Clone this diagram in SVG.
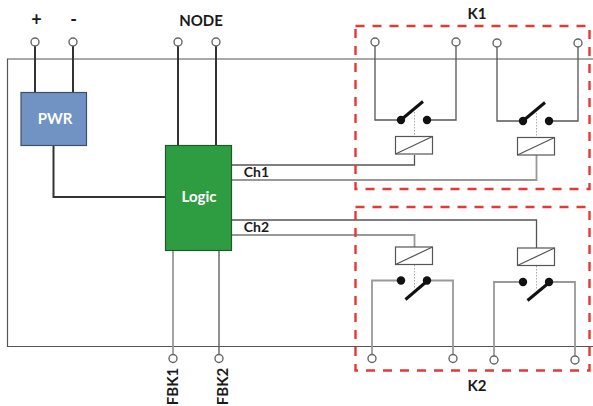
<svg xmlns="http://www.w3.org/2000/svg" width="593" height="406" viewBox="0 0 593 406">
<style>
text{font-family:Lato,Carlito,"Open Sans",sans-serif;font-weight:700;fill:#1a1a1a;font-size:14px;text-anchor:middle}
.w{fill:none;stroke:#555;stroke-width:1.3}
.g{fill:none;stroke:#999;stroke-width:1.8}
.d{fill:none;stroke:#333;stroke-width:2}
.t{fill:#fff;stroke:#555;stroke-width:1.2}
.c{fill:#fff;stroke:#666;stroke-width:1.4}
.k{fill:#111}
.b{stroke:#111;stroke-width:3;fill:none}
.dot{stroke:#aaa;stroke-width:1;stroke-dasharray:1.5 1.5;fill:none}
.r{fill:none;stroke:#e53935;stroke-width:2.4;stroke-dasharray:9 8}
</style>
<path id="frame" d="M593 59H7.5V346.5H593" fill="none" stroke="#555" stroke-width="1.2"/>
<g id="connectors">
<path class="d" d="M35 46V92M73 46V92M178 46V145M216 46V145M53.500 146V197H165"/>
<path class="g" d="M173 251V354"/>
<path class="w" d="M219 251V354"/>
<path class="w" d="M232 165H414.500V155M232 220H536.500V248"/>
<path class="g" d="M232 180H536.500V155M232 235H414.500V247"/>
<path class="w" d="M375 46V120H401M427 120H456V46M497 47V121H523M549 121H578V47"/>
<path class="g" d="M372 354V280.500H401M427 280.500H453V354M494 356V282H523M549 282H575V356"/>
<path class="dot" d="M414.500 112V136M536.500 113V137M414.500 265V288M536.500 266V289"/>
</g>
<g id="terminals">
<circle class="c" cx="35" cy="42" r="4"/><circle class="c" cx="73" cy="42" r="4"/>
<circle class="c" cx="178" cy="42" r="4"/><circle class="c" cx="216" cy="42" r="4"/>
<circle class="c" cx="173" cy="358.500" r="4"/><circle class="c" cx="219" cy="358.500" r="4"/>
<circle class="c" cx="375" cy="42" r="4"/><circle class="c" cx="456" cy="42" r="4"/>
<circle class="c" cx="497" cy="43" r="4"/><circle class="c" cx="578" cy="43" r="4"/>
<circle class="c" cx="372" cy="358.500" r="4"/><circle class="c" cx="453" cy="358.500" r="4"/>
<circle class="c" cx="494" cy="360" r="4"/><circle class="c" cx="575" cy="360" r="4"/>
</g>
<g id="PWR"><rect x="21" y="92.500" width="65.500" height="53" fill="#7193c3" stroke="#3d4f6b" stroke-width="1.2"/><text x="55" y="124" style="fill:#fff;font-size:15px">PWR</text></g>
<g id="Logic"><rect x="165.500" y="145.500" width="66" height="105" fill="#2e9c40" stroke="#1f5a2a" stroke-width="1.2"/><text x="199" y="202" style="fill:#fff;font-size:15px">Logic</text></g>
<g id="K1">
<rect class="r" x="355.500" y="26" width="234" height="163"/>
<text x="477" y="19" style="font-size:15px">K1</text>
<rect class="t" x="395.500" y="136.500" width="37" height="17.500"/><path class="t" d="M395.500 154L432.500 136.500"/>
<rect class="t" x="517.500" y="137.500" width="37" height="17.500"/><path class="t" d="M517.500 155L554.500 137.500"/>
<circle class="k" cx="401" cy="120" r="4.200"/><circle class="k" cx="427" cy="120" r="4.200"/><path class="b" d="M402 119L423 101.500"/>
<circle class="k" cx="523" cy="121" r="4.200"/><circle class="k" cx="549" cy="121" r="4.200"/><path class="b" d="M524 120L545 102.500"/>
</g>
<g id="K2">
<rect class="r" x="355.500" y="207" width="234" height="163.500"/>
<text x="477" y="391" style="font-size:15px">K2</text>
<rect class="t" x="395.500" y="247" width="37" height="17.500"/><path class="t" d="M395.500 264.500L432.500 247"/>
<rect class="t" x="517.500" y="248" width="37" height="17.500"/><path class="t" d="M517.500 265.500L554.500 248"/>
<circle class="k" cx="401" cy="280.500" r="4.200"/><circle class="k" cx="427" cy="280.500" r="4.200"/><path class="b" d="M426 282L405.500 299.500"/>
<circle class="k" cx="523" cy="282" r="4.200"/><circle class="k" cx="549" cy="282" r="4.200"/><path class="b" d="M548 283.500L527.500 300.500"/>
</g>
<g id="labels">
<text x="36.500" y="26" style="font-size:18px">+</text>
<text x="73.500" y="26" style="font-size:18px">-</text>
<text x="201" y="26" style="font-size:15px">NODE</text>
<text x="256.500" y="177">Ch1</text>
<text x="256.500" y="232">Ch2</text>
<text transform="translate(177.500 386.500) rotate(-90)" style="font-size:15px">FBK1</text>
<text transform="translate(227.500 386.500) rotate(-90)" style="font-size:15px">FBK2</text>
</g>
</svg>
